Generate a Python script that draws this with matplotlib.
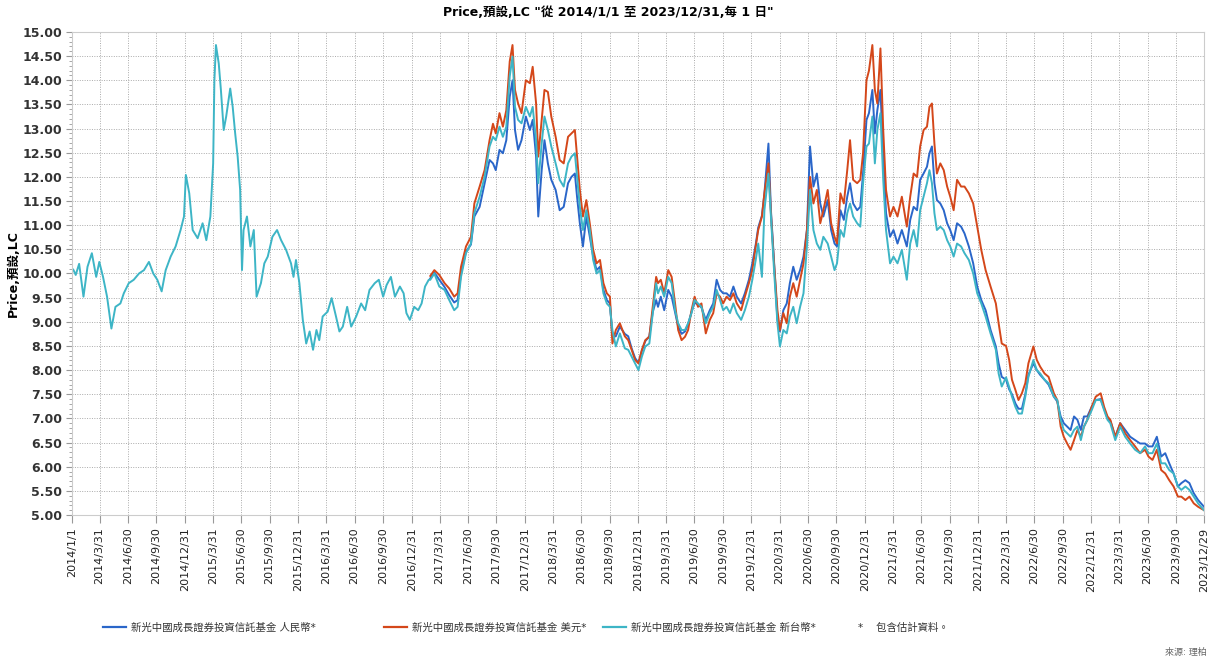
import numpy as np
import pandas as pd
import matplotlib
matplotlib.use("Agg")
import matplotlib.pyplot as plt
from matplotlib.lines import Line2D
from matplotlib.ticker import MultipleLocator, FormatStrFormatter

plt.rcParams['font.family'] = ['DejaVu Sans', 'Noto Sans CJK TC']

# ---- data ----
# 2014/1 - 2017/2: only the TWD share class exists
early_dates = [
    "2014-01-02", "2014-01-06", "2014-01-13", "2014-01-24", "2014-02-07", "2014-02-20",
    "2014-03-06", "2014-03-20", "2014-03-30", "2014-04-11", "2014-04-24", "2014-05-08",
    "2014-05-21", "2014-06-06", "2014-06-17", "2014-07-03", "2014-07-19", "2014-08-05",
    "2014-08-21", "2014-09-06", "2014-09-20", "2014-10-03", "2014-10-17", "2014-10-30",
    "2014-11-15", "2014-12-01", "2014-12-17", "2014-12-28", "2015-01-03", "2015-01-14",
    "2015-01-25", "2015-02-10", "2015-02-26", "2015-03-10", "2015-03-23", "2015-04-01",
    "2015-04-05", "2015-04-10", "2015-04-19", "2015-04-26", "2015-05-05", "2015-05-13",
    "2015-05-26", "2015-06-03", "2015-06-11", "2015-06-19", "2015-06-27", "2015-07-03",
    "2015-07-08", "2015-07-19", "2015-07-30", "2015-08-10", "2015-08-19", "2015-09-02",
    "2015-09-13", "2015-09-24", "2015-10-09", "2015-10-24", "2015-11-06", "2015-11-22",
    "2015-12-08", "2015-12-16", "2015-12-24", "2016-01-04", "2016-01-15", "2016-01-26",
    "2016-02-06", "2016-02-17", "2016-02-28", "2016-03-08", "2016-03-19", "2016-04-04",
    "2016-04-17", "2016-05-01", "2016-05-12", "2016-05-23", "2016-06-06", "2016-06-19",
    "2016-07-05", "2016-07-21", "2016-08-03", "2016-08-17", "2016-09-03", "2016-09-16",
    "2016-09-30", "2016-10-11", "2016-10-25", "2016-11-07", "2016-11-23", "2016-12-05",
    "2016-12-14", "2016-12-25", "2017-01-08", "2017-01-21", "2017-02-01", "2017-02-12",
    "2017-02-24",
]
twd_early = [
    10.10, 10.07, 9.97, 10.20, 9.52, 10.14,
    10.42, 9.93, 10.24, 9.93, 9.52, 8.86,
    9.31, 9.38, 9.59, 9.80, 9.87, 10.00,
    10.07, 10.24, 10.00, 9.87, 9.63, 10.07,
    10.35, 10.56, 10.90, 11.18, 12.04, 11.66,
    10.90, 10.73, 11.04, 10.69, 11.18, 12.28,
    14.00, 14.73, 14.35, 13.80, 12.97, 13.25,
    13.83, 13.45, 12.90, 12.42, 11.73, 10.07,
    10.90, 11.18, 10.56, 10.90, 9.52, 9.80,
    10.21, 10.35, 10.76, 10.90, 10.69, 10.49,
    10.21, 9.93, 10.28, 9.80, 9.04, 8.55,
    8.80, 8.42, 8.83, 8.62, 9.11, 9.21,
    9.49, 9.11, 8.80, 8.90, 9.31, 8.90,
    9.11, 9.38, 9.24, 9.66, 9.80, 9.87,
    9.52, 9.76, 9.93, 9.52, 9.73, 9.59,
    9.18, 9.04, 9.31, 9.24, 9.38, 9.73,
    9.87,
]

# 2017/3 - 2023/12: all three share classes
late_dates = [
    "2017-03-01", "2017-03-14", "2017-03-30", "2017-04-16", "2017-05-01", "2017-05-17",
    "2017-05-28", "2017-06-08", "2017-06-24", "2017-07-10", "2017-07-21", "2017-08-07",
    "2017-08-23", "2017-09-08", "2017-09-19", "2017-09-28", "2017-10-10", "2017-10-21",
    "2017-11-01", "2017-11-12", "2017-11-21", "2017-11-29", "2017-12-09", "2017-12-20",
    "2018-01-03", "2018-01-16", "2018-01-25", "2018-02-05", "2018-02-12", "2018-02-23",
    "2018-03-04", "2018-03-15", "2018-03-26", "2018-04-09", "2018-04-22", "2018-05-05",
    "2018-05-19", "2018-05-30", "2018-06-10", "2018-06-17", "2018-06-26", "2018-07-06",
    "2018-07-17", "2018-07-28", "2018-08-08", "2018-08-19", "2018-08-30", "2018-09-10",
    "2018-09-21", "2018-10-01", "2018-10-09", "2018-10-20", "2018-11-02", "2018-11-18",
    "2018-11-29", "2018-12-10", "2018-12-21", "2019-01-01", "2019-01-12", "2019-01-23",
    "2019-02-05", "2019-02-16", "2019-02-27", "2019-03-05", "2019-03-14", "2019-03-25",
    "2019-04-07", "2019-04-18", "2019-04-29", "2019-05-09", "2019-05-20", "2019-05-31",
    "2019-06-10", "2019-06-21", "2019-07-01", "2019-07-12", "2019-07-23", "2019-08-06",
    "2019-08-19", "2019-08-30", "2019-09-10", "2019-09-21", "2019-10-01", "2019-10-12",
    "2019-10-23", "2019-11-03", "2019-11-14", "2019-11-28", "2019-12-10", "2019-12-23",
    "2020-01-03", "2020-01-14", "2020-01-22", "2020-02-03", "2020-02-11", "2020-02-24",
    "2020-03-03", "2020-03-13", "2020-03-24", "2020-04-01", "2020-04-12", "2020-04-23",
    "2020-05-03", "2020-05-14", "2020-05-25", "2020-06-05", "2020-06-16", "2020-06-27",
    "2020-07-07", "2020-07-18", "2020-07-29", "2020-08-09", "2020-08-19", "2020-09-02",
    "2020-09-13", "2020-09-24", "2020-10-02", "2020-10-13", "2020-10-24", "2020-11-04",
    "2020-11-13", "2020-11-23", "2020-12-06", "2020-12-16", "2020-12-25", "2021-01-05",
    "2021-01-13", "2021-01-24", "2021-02-01", "2021-02-09", "2021-02-19", "2021-02-28",
    "2021-03-09", "2021-03-22", "2021-04-02", "2021-04-15", "2021-04-29", "2021-05-15",
    "2021-05-26", "2021-06-06", "2021-06-17", "2021-06-27", "2021-07-08", "2021-07-19",
    "2021-07-27", "2021-08-04", "2021-08-12", "2021-08-20", "2021-08-31", "2021-09-11",
    "2021-09-22", "2021-10-02", "2021-10-13", "2021-10-24", "2021-11-06", "2021-11-17",
    "2021-12-01", "2021-12-15", "2021-12-28", "2022-01-10", "2022-01-24", "2022-02-09",
    "2022-02-26", "2022-03-07", "2022-03-17", "2022-03-31", "2022-04-10", "2022-04-19",
    "2022-04-30", "2022-05-10", "2022-05-21", "2022-06-01", "2022-06-11", "2022-06-27",
    "2022-07-08", "2022-07-19", "2022-08-02", "2022-08-15", "2022-09-01", "2022-09-12",
    "2022-09-23", "2022-10-03", "2022-10-14", "2022-10-25", "2022-11-05", "2022-11-16",
    "2022-11-27", "2022-12-07", "2022-12-18", "2023-01-01", "2023-01-14", "2023-01-30",
    "2023-02-10", "2023-02-21", "2023-03-02", "2023-03-18", "2023-04-03", "2023-04-19",
    "2023-05-05", "2023-05-21", "2023-06-06", "2023-06-22", "2023-07-03", "2023-07-16",
    "2023-07-30", "2023-08-13", "2023-08-26", "2023-09-08", "2023-09-22", "2023-10-06",
    "2023-10-17", "2023-10-30", "2023-11-12", "2023-11-26", "2023-12-10", "2023-12-29",
]
usd = [
    9.95, 10.07, 9.97, 9.80, 9.69, 9.52,
    9.59, 10.14, 10.56, 10.76, 11.45, 11.80,
    12.14, 12.76, 13.10, 12.90, 13.32, 13.04,
    13.38, 14.39, 14.73, 13.80, 13.52, 13.32,
    14.00, 13.94, 14.28, 13.52, 12.42, 13.18,
    13.80, 13.76, 13.25, 12.83, 12.35, 12.28,
    12.83, 12.90, 12.97, 12.42, 11.73, 11.18,
    11.52, 11.04, 10.49, 10.21, 10.28, 9.80,
    9.59, 9.52, 8.55, 8.83, 8.97, 8.70,
    8.62, 8.42, 8.21, 8.14, 8.42, 8.62,
    8.69, 9.31, 9.93, 9.80, 9.87, 9.59,
    10.07, 9.93, 9.38, 8.83, 8.62, 8.69,
    8.83, 9.24, 9.52, 9.31, 9.38, 8.76,
    9.04, 9.18, 9.59, 9.52, 9.38, 9.52,
    9.45, 9.59, 9.38, 9.24, 9.52, 9.80,
    10.07, 10.56, 10.90, 11.18, 11.66, 12.28,
    11.25, 10.21, 9.24, 8.83, 9.18, 8.97,
    9.52, 9.80, 9.52, 9.87, 10.21, 10.90,
    12.00, 11.45, 11.73, 11.04, 11.31, 11.73,
    11.04, 10.76, 10.62, 11.66, 11.45, 12.14,
    12.76, 11.94, 11.87, 11.94, 12.49, 14.00,
    14.20, 14.73, 13.80, 13.52, 14.66, 12.97,
    11.73, 11.18, 11.38, 11.18, 11.59, 10.97,
    11.59, 12.07, 12.00, 12.63, 12.97, 13.04,
    13.45, 13.52, 12.69, 12.07, 12.28, 12.14,
    11.80, 11.59, 11.31, 11.94, 11.80, 11.80,
    11.66, 11.45, 10.97, 10.49, 10.07, 9.73,
    9.38, 8.97, 8.55, 8.50, 8.21, 7.80,
    7.59, 7.38, 7.52, 7.73, 8.14, 8.49,
    8.21, 8.07, 7.93, 7.86, 7.52, 7.38,
    6.83, 6.62, 6.48, 6.35, 6.55, 6.76,
    6.62, 6.83, 6.97, 7.24, 7.45, 7.52,
    7.24, 7.04, 6.97, 6.62, 6.90, 6.69,
    6.55, 6.42, 6.28, 6.35, 6.21, 6.14,
    6.35, 5.93, 5.86, 5.72, 5.59, 5.38,
    5.38, 5.31, 5.38, 5.24, 5.17, 5.10,
]
twd_late = [
    9.87, 10.00, 9.73, 9.66, 9.45, 9.24,
    9.31, 9.93, 10.42, 10.62, 11.25, 11.59,
    12.00, 12.63, 12.83, 12.76, 13.04, 12.83,
    13.04, 14.08, 14.49, 13.45, 13.18, 13.11,
    13.45, 13.25, 13.45, 12.76, 11.87, 12.69,
    13.25, 12.97, 12.63, 12.28, 11.94, 11.80,
    12.28, 12.42, 12.49, 12.00, 11.38, 10.90,
    11.31, 10.90, 10.28, 10.00, 10.07, 9.59,
    9.38, 9.31, 8.83, 8.49, 8.76, 8.45,
    8.42, 8.28, 8.14, 8.00, 8.28, 8.49,
    8.55, 9.18, 9.80, 9.59, 9.73, 9.52,
    9.93, 9.80, 9.24, 8.97, 8.83, 8.83,
    8.97, 9.18, 9.45, 9.38, 9.31, 8.97,
    9.18, 9.31, 9.66, 9.45, 9.24, 9.31,
    9.18, 9.38, 9.18, 9.04, 9.24, 9.52,
    9.87, 10.28, 10.62, 9.93, 11.31, 12.07,
    11.18, 10.07, 8.97, 8.49, 8.83, 8.76,
    9.11, 9.31, 8.97, 9.31, 9.59, 10.56,
    11.73, 10.90, 10.62, 10.49, 10.76, 10.62,
    10.35, 10.07, 10.21, 10.90, 10.76, 11.25,
    11.45, 11.18, 11.04, 10.97, 11.87, 12.63,
    12.69, 13.25, 12.28, 12.97, 13.32, 11.94,
    10.90, 10.21, 10.35, 10.21, 10.49, 9.87,
    10.62, 10.90, 10.56, 11.31, 11.59, 11.87,
    12.14, 11.87, 11.25, 10.90, 10.97, 10.90,
    10.69, 10.56, 10.35, 10.62, 10.56, 10.42,
    10.28, 10.00, 9.59, 9.38, 9.11, 8.76,
    8.42, 7.93, 7.66, 7.85, 7.65, 7.45,
    7.24, 7.10, 7.10, 7.45, 7.86, 8.21,
    8.00, 7.93, 7.80, 7.73, 7.45, 7.38,
    6.97, 6.76, 6.69, 6.62, 6.76, 6.83,
    6.55, 6.83, 6.97, 7.17, 7.38, 7.38,
    7.17, 6.97, 6.90, 6.55, 6.83, 6.62,
    6.48, 6.35, 6.28, 6.42, 6.28, 6.28,
    6.48, 6.07, 6.07, 5.93, 5.86, 5.59,
    5.52, 5.59, 5.52, 5.38, 5.24, 5.10,
]
rmb = [
    9.90, 10.02, 9.87, 9.72, 9.55, 9.40,
    9.45, 10.00, 10.45, 10.60, 11.18, 11.38,
    11.87, 12.35, 12.28, 12.14, 12.56, 12.49,
    12.76, 13.66, 14.00, 12.97, 12.56, 12.76,
    13.25, 12.97, 13.18, 12.42, 11.18, 12.14,
    12.76, 12.28, 11.94, 11.73, 11.31, 11.38,
    11.87, 12.00, 12.07, 11.59, 11.04, 10.56,
    11.18, 10.76, 10.35, 10.07, 10.14, 9.66,
    9.45, 9.38, 8.69, 8.70, 8.90, 8.75,
    8.70, 8.45, 8.25, 8.15, 8.40, 8.60,
    8.70, 9.20, 9.45, 9.31, 9.52, 9.24,
    9.66, 9.52, 9.20, 8.90, 8.75, 8.80,
    8.95, 9.20, 9.40, 9.35, 9.30, 9.04,
    9.24, 9.38, 9.87, 9.66, 9.59, 9.59,
    9.52, 9.73, 9.52, 9.38, 9.59, 9.87,
    10.21, 10.60, 10.95, 11.20, 11.66, 12.69,
    11.31, 10.25, 9.04, 8.80, 9.24, 9.38,
    9.80, 10.14, 9.87, 10.07, 10.35, 10.90,
    12.63, 11.80, 12.07, 11.45, 11.18, 11.52,
    10.90, 10.62, 10.56, 11.31, 11.11, 11.59,
    11.87, 11.45, 11.31, 11.38, 12.07, 13.18,
    13.32, 13.80, 12.90, 13.38, 13.80, 12.42,
    11.25, 10.76, 10.90, 10.62, 10.90, 10.56,
    11.11, 11.38, 11.31, 11.94, 12.07, 12.21,
    12.49, 12.63, 11.87, 11.52, 11.45, 11.31,
    11.04, 10.90, 10.69, 11.04, 10.97, 10.83,
    10.56, 10.21, 9.73, 9.45, 9.24, 8.83,
    8.49, 8.14, 7.86, 7.80, 7.60, 7.50,
    7.31, 7.20, 7.20, 7.50, 7.90, 8.14,
    8.00, 7.90, 7.80, 7.70, 7.45, 7.35,
    7.04, 6.90, 6.83, 6.76, 7.04, 6.97,
    6.76, 7.04, 7.04, 7.24, 7.38, 7.40,
    7.20, 7.00, 6.95, 6.62, 6.90, 6.76,
    6.62, 6.55, 6.48, 6.48, 6.42, 6.42,
    6.62, 6.21, 6.28, 6.07, 5.86, 5.59,
    5.66, 5.72, 5.66, 5.45, 5.31, 5.17,
]

tick_dates = ["2014-01-01"] + [f"{y}-{md}" for y in range(2014, 2024)
                               for md in ("03-31", "06-30", "09-30", "12-31")]
tick_dates[-1] = "2023-12-29"

labels = ["新光中國成長證券投資信託基金 人民幣*",
          "新光中國成長證券投資信託基金 美元*",
          "新光中國成長證券投資信託基金 新台幣*"]
colors = ["#2a66c9", "#d4471a", "#3db5c6"]
note = "*    包含估計資料。"

# ---- build series ----
early_idx = pd.to_datetime(early_dates)
late_idx = pd.to_datetime(late_dates)
s_rmb = pd.Series(rmb, index=late_idx)
s_usd = pd.Series(usd, index=late_idx)
s_twd = pd.Series(twd_early + twd_late, index=early_idx.append(late_idx))

fig = plt.figure(figsize=(12.17, 6.61), dpi=100)
ax = fig.add_axes([72 / 1217, 1 - 515 / 661, (1204 - 72) / 1217, (515 - 32) / 661])

for s, c, lab in zip([s_rmb, s_usd, s_twd], colors, labels):
    ax.plot(s.index, s.values, color=c, lw=1.4, label=lab)

ticks = pd.to_datetime(tick_dates)
ax.set_xlim(ticks[0], ticks[-1])
ax.set_xticks(ticks)
ax.set_xticklabels([f"{t.year}/{t.month}/{t.day}" for t in ticks],
                   rotation=90, fontsize=8, color="#222222")
ax.set_ylim(5, 15)
ax.yaxis.set_major_locator(MultipleLocator(0.5))
ax.yaxis.set_minor_locator(MultipleLocator(0.1))
ax.yaxis.set_major_formatter(FormatStrFormatter("%.2f"))
for t in ax.get_yticklabels():
    t.set_fontsize(9)
    t.set_color("#333333")
    t.set_fontweight("bold")

ax.tick_params(axis="x", length=6, color="#999999", pad=3)
ax.tick_params(axis="y", which="major", length=4, color="#999999", pad=3)
ax.tick_params(axis="y", which="minor", length=2, color="#999999")
ax.grid(True, which="major", color="#aaaaaa", linestyle=(0, (1, 1.5)), linewidth=0.7)
for sp in ax.spines.values():
    sp.set_color("#cccccc")

ax.set_ylabel("Price,預設,LC", fontsize=9, fontweight="bold", labelpad=2)

fig.text(0.5, 1 - 12 / 661, 'Price,預設,LC "從 2014/1/1 至 2023/12/31,每 1 日"',
         ha="center", va="center", fontsize=9, fontweight="bold")

# legend entries placed individually, as in the reference
entry_x = [100, 381, 600, 827]
handles = [Line2D([], [], color=c, lw=1.6) for c in colors] + [Line2D([], [], color="none")]
for h, lab, x in zip(handles, labels + [note], entry_x):
    leg = fig.legend([h], [lab], loc="center left", bbox_to_anchor=(x / 1217, 1 - 628 / 661),
                     frameon=False, fontsize=7.5, handlelength=2.2, handletextpad=0.5,
                     borderaxespad=0, borderpad=0.3)
    for t in leg.get_texts():
        t.set_color("#333333")

fig.text(1 - 10 / 1217, 1 - 652 / 661, "來源: 理柏", ha="right", va="center",
         fontsize=6.5, color="#666666")

fig.savefig("out.png", dpi=100)
